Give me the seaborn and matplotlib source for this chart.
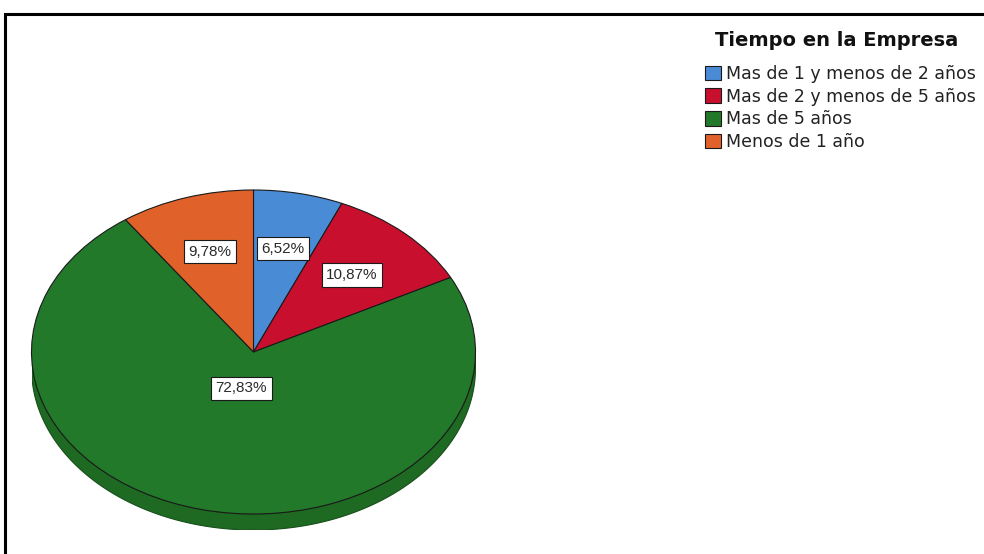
import matplotlib
matplotlib.use("Agg")
import matplotlib.pyplot as plt
import seaborn as sns
import numpy as np
from matplotlib.patches import Rectangle, Polygon

# ---- data ----
categories = ["Mas de 1 y menos de 2 años", "Mas de 2 y menos de 5 años",
              "Mas de 5 años", "Menos de 1 año"]
percentages = [6.52, 10.87, 72.83, 9.78]
colors = ["#4a8bd6", "#c8102e", "#23792a", "#e0622a"]
legend_title = "Tiempo en la Empresa"

sns.set_theme(style="white")
plt.rcParams['font.family'] = ['DejaVu Sans']

W, H = 984, 554
fig = plt.figure(figsize=(W / 100, H / 100), dpi=100)

# pie geometry (pixels)
cx, cy, rx, ry, depth = 253.5, 352, 222, 162, 16
ax = fig.add_axes([(cx - rx) / W, (H - (cy + ry + depth)) / H,
                   2 * rx / W, (2 * ry + depth) / H])
d = depth / ry

wedges, texts, autotexts = ax.pie(
    percentages, colors=colors, startangle=90, counterclock=False,
    autopct=lambda p: f"{p:.2f}%".replace(".", ","), pctdistance=0.65,
    wedgeprops=dict(edgecolor="#1a1a1a", linewidth=0.8),
    textprops=dict(family=["Liberation Sans", "DejaVu Sans"], fontsize=11, color="#2a2a2a"))
ax.set_aspect('auto')
ax.set_xlim(-1, 1)
ax.set_ylim(-1 - d, 1)
ax.axis('off')

# 3D side (front rim) in darker green
th = np.linspace(np.pi, 2 * np.pi, 300)
top = np.column_stack([np.cos(th), np.sin(th)])
bot = np.column_stack([np.cos(th[::-1]), np.sin(th[::-1]) - d])
side = Polygon(np.vstack([top, bot]), closed=True, facecolor="#1e6a23",
               edgecolor="#174f1a", linewidth=0.8, zorder=0)
ax.add_patch(side)

for t in autotexts:
    t.set_bbox(dict(boxstyle="square,pad=0.3", fc="white", ec="#1a1a1a", lw=0.8))
# big slice label sits closer to the center
x, y = autotexts[2].get_position()
autotexts[2].set_position((x * 0.23 / 0.65, y * 0.23 / 0.65))

fig.text(837 / W, (H - 40) / H, legend_title, ha="center", va="center",
         fontsize=14, fontweight="bold", color="#111111")

leg = fig.legend(wedges, categories, loc="upper left",
                 bbox_to_anchor=(705 / W, (H - 65) / H), frameon=False,
                 fontsize=12.5, handlelength=0.92, handleheight=0.92,
                 handletextpad=0.3, labelspacing=0.27, borderpad=0,
                 borderaxespad=0)
for t in leg.get_texts():
    t.set_color("#222222")

# outer frame
fig.add_artist(Rectangle((4.5 / W, -0.1), 1.2, (H - 13.5) / H + 0.1,
                         transform=fig.transFigure, fill=False,
                         edgecolor="black", linewidth=2.2))

fig.savefig("out.png", dpi=100)
